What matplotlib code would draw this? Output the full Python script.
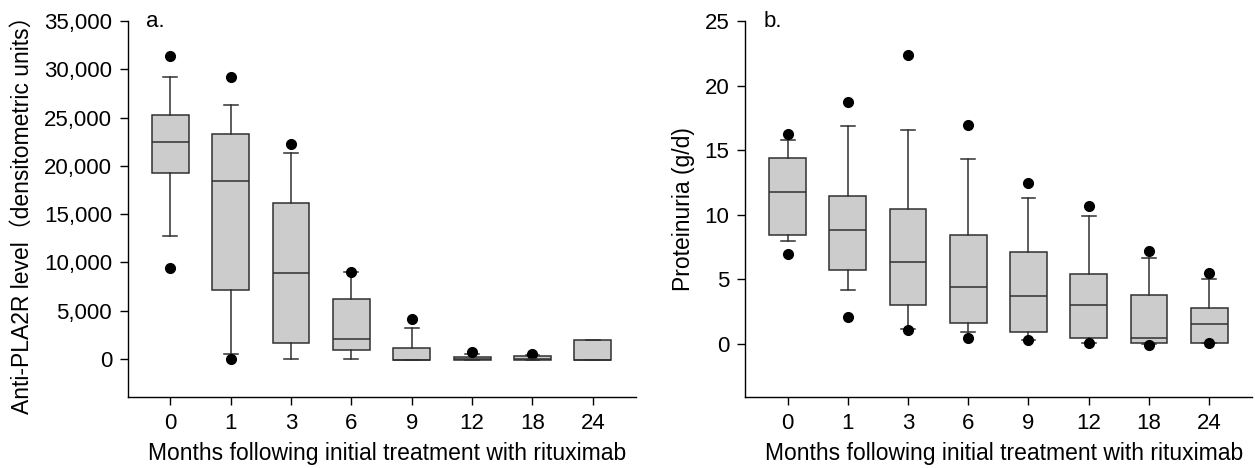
import matplotlib
matplotlib.use("Agg")
import matplotlib.pyplot as plt

plt.rcParams['font.family'] = ['Liberation Sans', 'Noto Sans CJK SC', 'DejaVu Sans']

months = ["0", "1", "3", "6", "9", "12", "18", "24"]

# Panel a: Anti-PLA2R level
a_q1 = [19300, 7110, 1620, 900, -100, -140, -140, -140]
a_med = [22500, 18430, 8840, 2070, -100, 0, 0, -140]
a_q3 = [25270, 23340, 16190, 6180, 1070, 170, 280, 1900]
a_wlo = [12700, 480, 0, 0, -100, -140, -140, -140]
a_whi = [29200, 26270, 21300, 8980, 3210, 520, 380, 1900]
a_out = [[31380, 9390], [29170, 0], [22270], [9040], [4110], [660], [520], []]

# Panel b: Proteinuria
b_q1 = [8.46, 5.70, 3.02, 1.63, 0.93, 0.44, 0.10, 0.08]
b_med = [11.74, 8.85, 6.32, 4.39, 3.72, 3.04, 0.49, 1.52]
b_q3 = [14.42, 11.46, 10.42, 8.46, 7.15, 5.39, 3.79, 2.79]
b_wlo = [8.0, 4.15, 1.19, 0.90, 0.28, 0.08, -0.03, 0.05]
b_whi = [15.79, 16.87, 16.59, 14.29, 11.33, 9.91, 6.63, 5.0]
b_out = [[16.23, 6.94], [18.76, 2.09], [22.39, 1.11], [16.92, 0.49],
         [12.49, 0.28], [10.66, 0.08], [7.22, -0.05], [5.52, 0.05]]


def stats(q1, med, q3, wlo, whi, out):
    return [dict(q1=a, med=m, q3=c, whislo=lo, whishi=hi, fliers=f, label=l)
            for a, m, c, lo, hi, f, l in zip(q1, med, q3, wlo, whi, out, months)]


fig = plt.figure(figsize=(12.55, 4.68), dpi=100)
ax1 = fig.add_axes([0.102, 0.152, 0.405, 0.803])
ax2 = fig.add_axes([0.594, 0.152, 0.404, 0.803])

edge = '#303030'
lw = 1.1
common = dict(
    positions=range(len(months)), widths=0.61, capwidths=0.23,
    patch_artist=True, shownotches=False,
    boxprops=dict(facecolor='#cccccc', edgecolor=edge, linewidth=lw),
    medianprops=dict(color=edge, linewidth=lw),
    whiskerprops=dict(color=edge, linewidth=lw),
    capprops=dict(color=edge, linewidth=lw),
    flierprops=dict(marker='o', markerfacecolor='black', markeredgecolor='black',
                    markersize=7, linestyle='none'),
)

ax1.bxp(stats(a_q1, a_med, a_q3, a_wlo, a_whi, a_out), **common)
ax2.bxp(stats(b_q1, b_med, b_q3, b_wlo, b_whi, b_out), **common)

fs = 16
lfs = 16.5
for ax in (ax1, ax2):
    ax.spines['top'].set_visible(False)
    ax.spines['right'].set_visible(False)
    for s in ('left', 'bottom'):
        ax.spines[s].set_linewidth(1.0)
        ax.spines[s].set_color('black')
    ax.set_xlim(-0.7, 7.72)
    ax.set_xticks(range(len(months)))
    ax.set_xticklabels(months)
    ax.tick_params(axis='both', direction='out', length=5.5, width=1.0,
                   labelsize=fs, colors='black', pad=6)
    ax.set_xlabel("Months following initial treatment with rituximab", fontsize=lfs, labelpad=6)
    ax.xaxis.label.set_x(0.51)

ax1.set_ylim(-3950, 35000)
ax1.set_yticks(range(0, 35001, 5000))
ax1.set_yticklabels([f"{v:,}" for v in range(0, 35001, 5000)])
ax1.set_ylabel("Anti-PLA2R level（densitometric units）", fontsize=lfs, labelpad=7)
ax1.text(0.035, 1.0, "a.", transform=ax1.transAxes, fontsize=fs, va='center', ha='left')

ax2.set_ylim(-4.1, 25)
ax2.set_yticks(range(0, 26, 5))
ax2.set_ylabel("Proteinuria (g/d)", fontsize=lfs, labelpad=7)
ax2.text(0.035, 1.0, "b.", transform=ax2.transAxes, fontsize=fs, va='center', ha='left')

fig.savefig("out.png", dpi=100)
